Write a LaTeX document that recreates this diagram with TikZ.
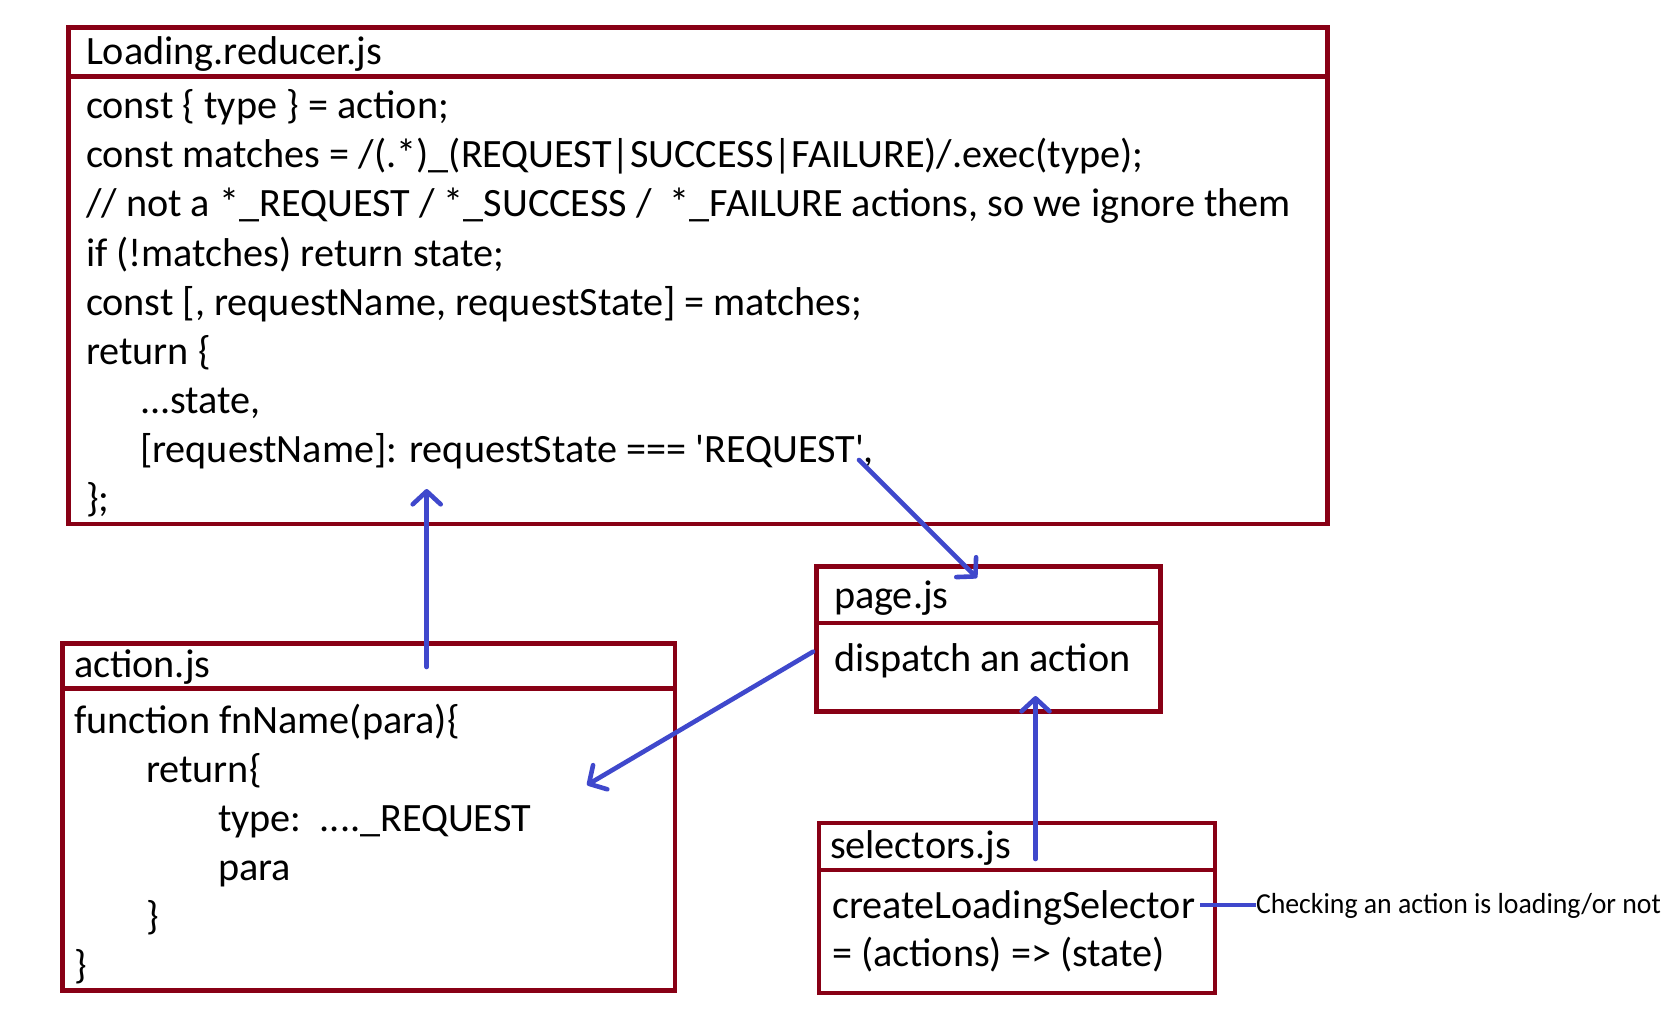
\documentclass[tikz,border=0pt]{standalone}
\usepackage{fontspec}
\setmainfont{Carlito}
\newfontfamily\codefont{Carlito}
\usetikzlibrary{arrows.meta}
\definecolor{dred}{RGB}{136,0,21}
\definecolor{ablue}{RGB}{63,72,204}
\begin{document}
\begin{tikzpicture}[x=1pt,y=-1pt,
  frame/.style={draw=dred, line width=4.7pt, inner sep=0pt, outer sep=0pt, anchor=north west},
  code/.style={anchor=base west, inner sep=0pt, outer sep=0pt, font=\codefont\fontsize{40.2}{48}\selectfont},
  note/.style={anchor=base west, inner sep=0pt, outer sep=0pt, font=\codefont\fontsize{29}{34}\selectfont},
  conn/.style={draw=ablue, line width=4.6pt, line cap=round, -{Straight Barb[length=13pt,width=28pt,round]}},
  plain/.style={draw=ablue, line width=4.6pt},
]
\useasboundingbox (0,0) rectangle (1678,1011);
\fill[white] (0,0) rectangle (1678,1011);

% Loading.reducer.js
\node[frame, minimum width=1259pt, minimum height=49.2pt] (redH) at (68.5,27.5) {};
\node[frame, minimum width=1259pt, minimum height=447.3pt] (redB) at (68.5,76.7) {};
\node[code] (redT) at (86,64.5) {Loading.reducer.js};
\node[code] (r1) at (86,119) {const \{ type \} = action;};
\node[code] (r2) at (86,168) {const matches = /(.*)\_(REQUEST|SUCCESS|FAILURE)/.exec(type);};
\node[code] (r3) at (86,217) {// not a *\_REQUEST / *\_SUCCESS /\ \ *\_FAILURE actions, so we ignore them};
\node[code] (r4) at (86,266) {if (!matches) return state;};
\node[code] (r5) at (86,315) {const [, requestName, requestState] = matches;};
\node[code] (r6) at (86,364) {return \{};
\node[code] (r7) at (140,413) {...state,};
\node[code] (r8) at (140,462) {[requestName]: requestState === 'REQUEST',};
\node[code] (r9) at (86,511) {\};};

% page.js
\node[frame, minimum width=343.8pt, minimum height=56.4pt] (pageH) at (816.7,566.6) {};
\node[frame, minimum width=343.8pt, minimum height=88.5pt] (pageB) at (816.7,623) {};
\node[code] (pageT) at (834,608.5) {page.js};
\node[code] (p1) at (834,671) {dispatch an action};

% action.js
\node[frame, minimum width=612.2pt, minimum height=45.5pt] (actH) at (62.8,643.3) {};
\node[frame, minimum width=612.2pt, minimum height=301.9pt] (actB) at (62.8,688.8) {};
\node[code] (actT) at (74,677) {action.js};
\node[code] (a1) at (74,733.5) {function fnName(para)\{};
\node[code] (a2) at (146,782.5) {return\{};
\node[code] (a3) at (218,831.5) {type:\ \ ....\_REQUEST};
\node[code] (a4) at (218,880.5) {para};
\node[code] (a5) at (146,929.5) {\}};
\node[code] (a6) at (74,978.5) {\}};

% selectors.js
\node[frame, minimum width=396pt, minimum height=47pt] (selH) at (819,823) {};
\node[frame, minimum width=396pt, minimum height=123pt] (selB) at (819,870) {};
\node[code] (selT) at (830,858.5) {selectors.js};
\node[code] (s1) at (832,918.5) {createLoadingSelector};
\node[code] (s2) at (832,966.5) {= (actions) => (state)};

% annotation
\node[note] (anno) at (1256,913.8) {\resizebox{405pt}{\height}{Checking an action is loading/or not}};

% connectors
\coordinate (c1s) at (426.7,667);
\coordinate (c1e) at (426.7,489);
\coordinate (c2s) at (859,460);
\coordinate (c2e) at (977,578);
\coordinate (c3s) at (813,651.7);
\coordinate (c3e) at (587,785);
\coordinate (c4s) at (1035.5,859);
\coordinate (c4e) at (1035.5,696);
\coordinate (c5s) at (1200,905);
\draw[conn] (c1s) -- (c1e);
\draw[conn] (c2s) -- (c2e);
\draw[conn] (c3s) -- (c3e);
\draw[conn] (c4s) -- (c4e);
\draw[plain] (c5s) -- (anno.west |- c5s);
\end{tikzpicture}
\end{document}
